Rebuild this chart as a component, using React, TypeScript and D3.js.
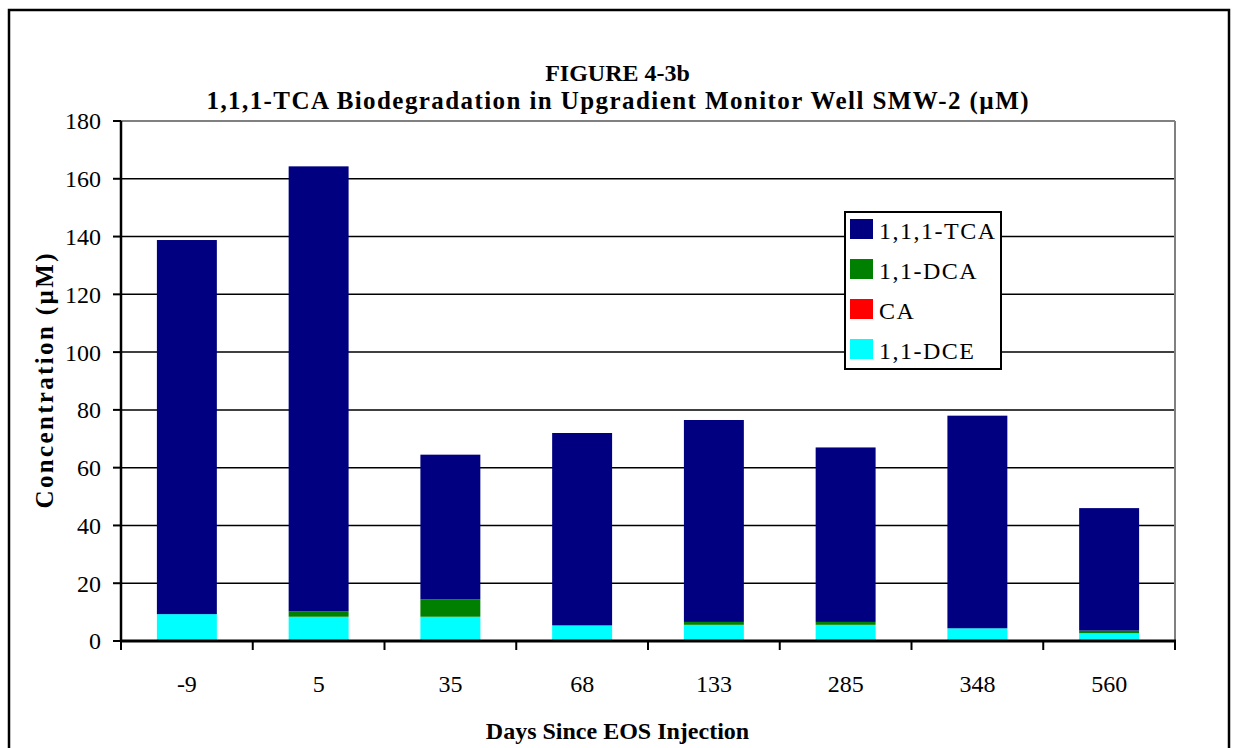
import React from "react";
import * as d3 from "d3";

const categories = ["-9", "5", "35", "68", "133", "285", "348", "560"];
const seriesNames = ["1,1-DCE", "CA", "1,1-DCA", "1,1,1-TCA"];
const dce = [9.3, 8.4, 8.4, 5.4, 5.6, 5.6, 4.4, 2.7];
const ca = [0, 0, 0, 0, 0, 0, 0, 0];
const dca = [0, 1.9, 6.0, 0, 1.0, 1.0, 0, 0.9];
const tca = [129.5, 154.0, 50.1, 66.6, 69.9, 60.4, 73.6, 42.4];
const colors = ["#00FFFF", "#FF0000", "#008000", "#000080"];
const yTicks = [0, 20, 40, 60, 80, 100, 120, 140, 160, 180];
const legendOrder = ["1,1,1-TCA", "1,1-DCA", "CA", "1,1-DCE"];

const W = 1235;
const H = 748;
const left = 121;
const right = 1175;
const top = 121;
const bottom = 641;
const font = "'Liberation Serif', 'Times New Roman', serif";

export default function App() {
  const x = d3
    .scaleBand<string>()
    .domain(categories)
    .range([left, right])
    .paddingInner(0.545)
    .paddingOuter(0.2725);
  const y = d3.scaleLinear().domain([0, 180]).range([bottom, top]);

  const rows = categories.map((c, i) => ({
    cat: c,
    "1,1-DCE": dce[i],
    CA: ca[i],
    "1,1-DCA": dca[i],
    "1,1,1-TCA": tca[i],
  }));
  const stack = d3.stack<any>().keys(seriesNames)(rows);
  const colorOf = (k: string) => colors[seriesNames.indexOf(k)];
  const step = x.step();

  return (
    <svg
      width={W}
      height={H}
      style={{ position: "absolute", left: 0, top: 0, background: "#fff" }}
      fontFamily={font}
    >
      <rect x={0} y={0} width={W} height={H} fill="#fff" />
      <rect x={9} y={10} width={1220} height={800} fill="none" stroke="#000" strokeWidth={2.5} />
      <text x={W / 2} y={73} dy="0.35em" textAnchor="middle" fontSize={24} fontWeight="bold">
        FIGURE 4-3b
      </text>
      <text
        x={W / 2}
        y={100}
        dy="0.35em"
        textAnchor="middle"
        fontSize={25}
        fontWeight="bold"
        textLength={822}
        lengthAdjust="spacing"
      >
        1,1,1-TCA Biodegradation in Upgradient Monitor Well SMW-2 (µM)
      </text>

      {/* gridlines */}
      {yTicks.slice(1, -1).map((t) => (
        <line key={t} x1={left} x2={right} y1={y(t)} y2={y(t)} stroke="#000" strokeWidth={1.5} />
      ))}
      {/* plot border top/right */}
      <line x1={left} x2={right} y1={top} y2={top} stroke="#808080" strokeWidth={2} />
      <line x1={right} x2={right} y1={top} y2={bottom} stroke="#808080" strokeWidth={2} />

      {/* bars */}
      {stack.map((s) => (
        <g key={s.key} fill={colorOf(s.key)}>
          {s.map((d, i) =>
            d[1] - d[0] > 0 ? (
              <rect
                key={i}
                x={x(categories[i])}
                width={x.bandwidth()}
                y={y(d[1])}
                height={y(d[0]) - y(d[1])}
              />
            ) : null
          )}
        </g>
      ))}

      {/* axes */}
      <line x1={left} x2={left} y1={top} y2={bottom + 1} stroke="#000" strokeWidth={2.5} />
      <line x1={left - 1} x2={right + 1} y1={bottom} y2={bottom} stroke="#000" strokeWidth={3} />
      {yTicks.map((t) => (
        <g key={t}>
          <line x1={left - 8} x2={left} y1={y(t)} y2={y(t)} stroke="#000" strokeWidth={2} />
          <text x={101} y={y(t)} dy="0.35em" textAnchor="end" fontSize={24}>
            {t}
          </text>
        </g>
      ))}
      {categories.map((c, i) => (
        <line
          key={"t" + i}
          x1={left + step * i}
          x2={left + step * i}
          y1={bottom}
          y2={bottom + 9}
          stroke="#000"
          strokeWidth={2}
        />
      ))}
      <line x1={right} x2={right} y1={bottom} y2={bottom + 9} stroke="#000" strokeWidth={2} />
      {categories.map((c) => (
        <text key={c} x={(x(c) as number) + x.bandwidth() / 2} y={684} dy="0.35em" textAnchor="middle" fontSize={24}>
          {c}
        </text>
      ))}
      <text x={W / 2} y={731} dy="0.35em" textAnchor="middle" fontSize={24} fontWeight="bold">
        Days Since EOS Injection
      </text>
      <text
        transform={`translate(44,${(top + bottom) / 2}) rotate(-90)`}
        textAnchor="middle"
        dy="0.35em"
        fontSize={25}
        fontWeight="bold"
        textLength={255}
        lengthAdjust="spacing"
      >
        Concentration (µM)
      </text>

      {/* legend */}
      <rect x={845} y={212} width={156} height={157} fill="#fff" stroke="#000" strokeWidth={2} />
      {legendOrder.map((k, i) => (
        <g key={k}>
          <rect x={850} y={219 + i * 40} width={23} height={20} fill={colorOf(k)} />
          <text x={879} y={231 + i * 40} dy="0.35em" fontSize={24} letterSpacing={1.5}>
            {k}
          </text>
        </g>
      ))}
    </svg>
  );
}
